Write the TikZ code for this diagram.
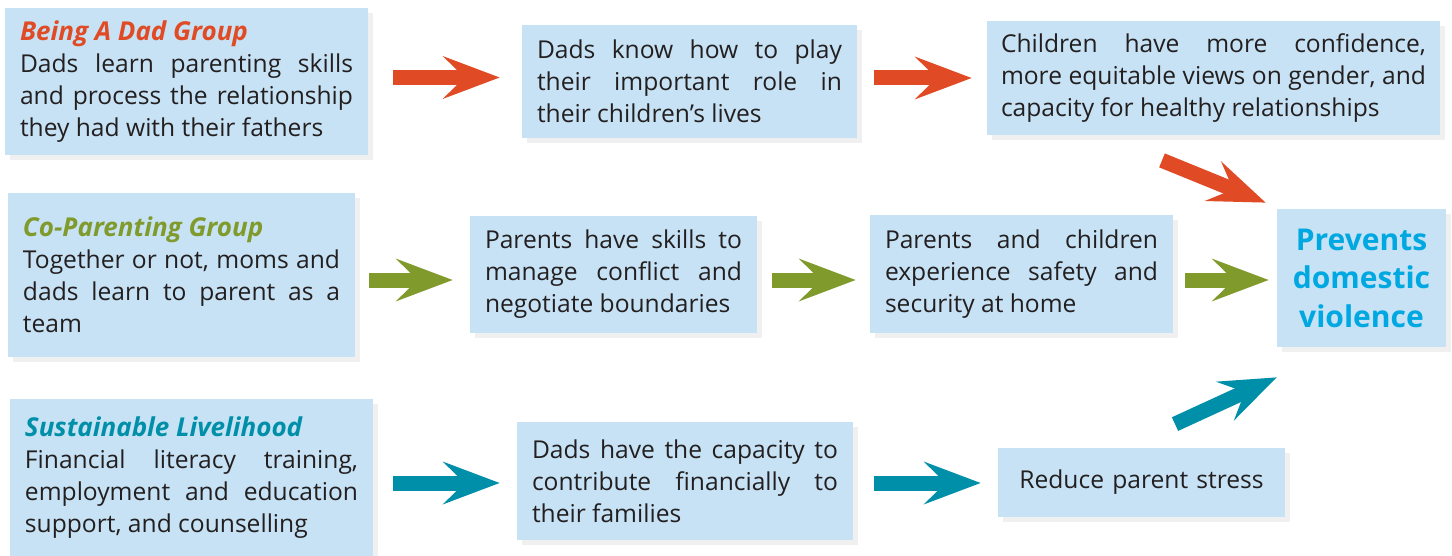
\documentclass[tikz,border=0pt]{standalone}
\usepackage{fontspec}
\setmainfont{Open Sans}
\usepackage{tikz}
\usetikzlibrary{calc}
\usetikzlibrary{arrows.meta}
\usetikzlibrary{shadows}

\definecolor{boxblue}{HTML}{C6E2F4}
\definecolor{textdark}{HTML}{231F20}
\definecolor{dadred}{HTML}{E04B25}
\definecolor{coparentgreen}{HTML}{809A2B}
\definecolor{livelihoodteal}{HTML}{008FA8}
\definecolor{preventcyan}{HTML}{00A8E1}

\begin{document}
\begin{tikzpicture}
    \tikzstyle{box}=[fill=boxblue, inner xsep=7.5pt, inner ysep=4pt, align=justify, text=textdark, font=\fontsize{12.3}{16}\selectfont, drop shadow={opacity=0.12, shadow xshift=2.5pt, shadow yshift=-2.5pt}]
    \tikzstyle{fat}=[line width=7.5pt, -{Stealth[length=28.5pt, width=21.5pt, inset=11pt, line width=0pt]}]
    \newcommand{\grouphead}[1]{{\fontsize{13}{16}\selectfont\textbf{\textit{#1}}}}

    \useasboundingbox (0,0) rectangle (726pt,-278pt);

    % nodes
    \node (dad) [box, text width=166.5pt, minimum width=181.5pt, minimum height=73.5pt] at (93.25pt,-40.75pt) {\textcolor{dadred}{\grouphead{Being A Dad Group}}\\ Dads learn parenting skills\linebreak and process the relationship\linebreak they had with their fathers};
    \node (dadplay) [box, text width=152.5pt, minimum width=167.5pt, minimum height=56.5pt] at (344.75pt,-40.75pt) {Dads know how to play\linebreak their important role in\linebreak their children’s lives};
    \node (kids) [box, text width=212.5pt, minimum width=226.5pt, minimum height=57pt, inner xsep=7pt] at (606.75pt,-39pt) {Children have more confidence,\linebreak more equitable views on gender, and\linebreak capacity for healthy relationships};

    \node (coparent) [box, text width=158.5pt, minimum width=173.5pt, minimum height=82pt] at (90.75pt,-137.5pt) {\textcolor{coparentgreen}{\grouphead{Co-Parenting Group}}\\ Together or not, moms and\linebreak dads learn to parent as a\linebreak team};
    \node (skills) [box, text width=128.5pt, minimum width=143.5pt, minimum height=58.5pt] at (306.75pt,-137.25pt) {Parents have skills to\linebreak manage conflict and\linebreak negotiate boundaries};
    \node (safety) [box, text width=136.5pt, minimum width=151.5pt, minimum height=59pt] at (510.75pt,-137pt) {Parents and children\linebreak experience safety and\linebreak security at home};
    \node (prevent) [box, align=center, text width=80pt, minimum width=84.5pt, minimum height=69pt, inner xsep=2pt, text=preventcyan, font=\fontsize{15}{19.25}\selectfont\bfseries] at (680.75pt,-139pt) {Prevents\\ domestic\\ violence};

    \node (liveli) [box, text width=166.5pt, minimum width=181.5pt, minimum height=79pt] at (95.75pt,-239pt) {\textcolor{livelihoodteal}{\grouphead{Sustainable Livelihood}}\\ Financial literacy training,\linebreak employment and education\linebreak support, and counselling};
    \node (finance) [box, text width=153pt, minimum width=168pt, minimum height=59pt] at (342.5pt,-240.5pt) {Dads have the capacity to\linebreak contribute financially to\linebreak their families};
    \node (stress) [box, align=center, text width=128.5pt, minimum width=143.5pt, minimum height=34.5pt] at (570.75pt,-241pt) {Reduce parent stress};

    % diagonal arrow ends
    \coordinate (redtail) at ($(kids.south)+(-25.75pt,-12.5pt)$);
    \coordinate (tealtail) at ($(stress.north)+(16.75pt,11.5pt)$);

    % arrows
    \draw[fat, dadred, shorten <=12.5pt, shorten >=11pt] ([yshift=2pt]dad.east) -- ([yshift=2pt]dadplay.west);
    \draw[fat, dadred, shorten <=8.5pt, shorten >=7.5pt] (dadplay.east |- kids.west) -- (kids.west);
    \draw[fat, dadred] (redtail) -- ([shift={(-5.5pt,3pt)}]prevent.north west);

    \draw[fat, coparentgreen, shorten <=7pt, shorten >=8.5pt] ([yshift=-2.5pt]coparent.east) -- ([yshift=-2.75pt]skills.west);
    \draw[fat, coparentgreen, shorten <=7.5pt, shorten >=7pt] ([yshift=-2.75pt]skills.east) -- ([yshift=-3pt]safety.west);
    \draw[fat, coparentgreen, shorten <=6pt, shorten >=4pt] ([yshift=-3pt]safety.east) -- ([yshift=-1pt]prevent.west);

    \draw[fat, livelihoodteal, shorten <=10pt, shorten >=8.5pt] ([yshift=-2.5pt]liveli.east) -- ([yshift=-1pt]finance.west);
    \draw[fat, livelihoodteal, shorten <=10.5pt, shorten >=8.5pt] ([yshift=-1pt]finance.east) -- ([yshift=-0.5pt]stress.west);
    \draw[fat, livelihoodteal] (tealtail) -- ([yshift=-15pt]prevent.south west);
\end{tikzpicture}
\end{document}
